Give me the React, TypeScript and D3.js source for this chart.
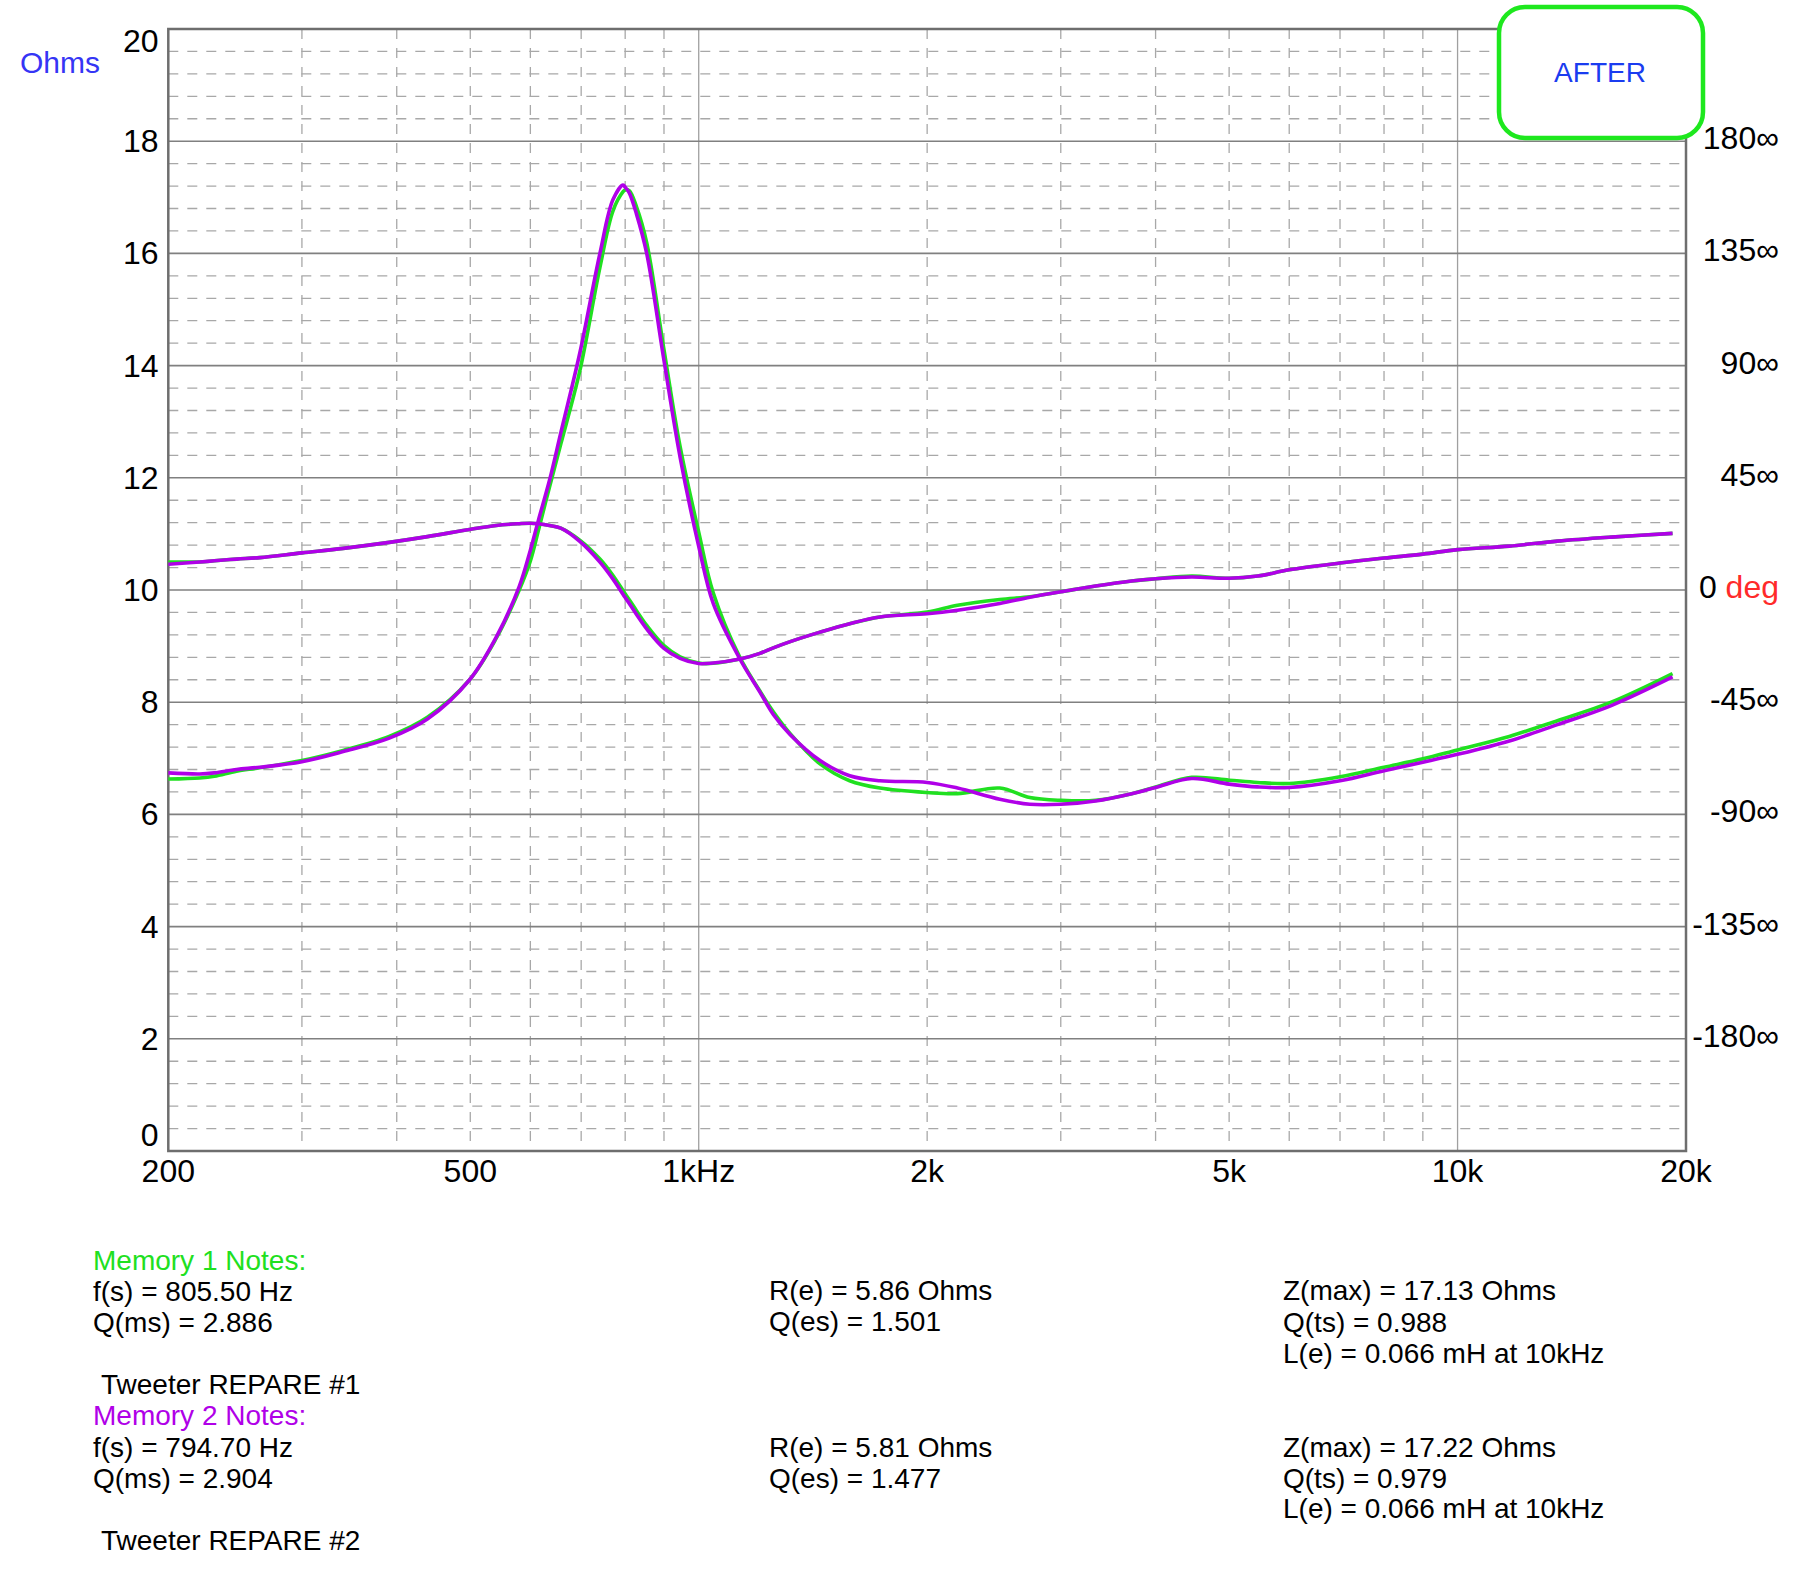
import React, { useEffect, useRef } from 'react';
import * as d3 from 'd3';

// frequency points (Hz)
const freq = [
  200, 220, 230, 246, 264, 300, 340, 391, 439, 499, 541, 580, 600, 615, 636, 658, 697, 741, 771, 795,
  800, 810, 828, 854, 900, 945, 1000, 1045, 1133, 1204, 1254, 1320, 1445, 1581, 1733, 2000, 2193, 2493,
  2731, 3000, 3334, 3720, 4000, 4464, 5000, 5451, 6000, 7000, 8000, 9000, 10000, 11700, 13540, 15940, 19200,
];

// Memory 1 (green) impedance, ohms
const zMem1 = [
  6.63, 6.65, 6.68, 6.77, 6.83, 6.96, 7.14, 7.39, 7.73, 8.4, 9.14, 10.0, 10.52, 11.07, 11.84, 12.6, 13.9, 15.75, 16.76, 17.1,
  17.13, 17.12, 16.83, 16.19, 14.28, 12.56, 11.03, 9.95, 8.8, 8.2, 7.83, 7.44, 6.9, 6.6, 6.47, 6.39, 6.37, 6.47,
  6.3, 6.25, 6.25, 6.37, 6.49, 6.66, 6.61, 6.57, 6.55, 6.67, 6.84, 6.99, 7.15, 7.39, 7.67, 8.0, 8.51,
];

// Memory 2 (purple) impedance, ohms
const zMem2 = [
  6.74, 6.72, 6.74, 6.8, 6.84, 6.94, 7.12, 7.36, 7.7, 8.4, 9.16, 10.06, 10.71, 11.25, 11.96, 12.8, 14.22, 16.0, 16.96, 17.22,
  17.18, 17.08, 16.7, 16.0, 14.09, 12.37, 10.78, 9.76, 8.77, 8.18, 7.78, 7.42, 6.96, 6.69, 6.6, 6.57, 6.47, 6.27,
  6.18, 6.18, 6.24, 6.37, 6.48, 6.64, 6.54, 6.49, 6.48, 6.6, 6.78, 6.93, 7.07, 7.31, 7.6, 7.94, 8.45,
];

// phase, degrees
const phMem1 = [
  11.25, 11.25, 11.7, 12.4, 13.0, 14.9, 16.7, 19.1, 21.4, 24.3, 25.9, 26.6, 26.8, 26.6, 25.9, 24.8, 20.0, 12.4, 5.8, -0.3,
  -1.5, -3.9, -8.3, -14.2, -22.3, -26.8, -29.3, -29.4, -27.7, -25.4, -23.2, -20.7, -16.9, -13.5, -10.8, -8.8, -6.1, -3.8,
  -2.7, -0.7, 1.6, 3.6, 4.5, 5.6, 4.7, 5.6, 8.1, 10.8, 12.8, 14.4, 16.2, 17.6, 19.6, 21.2, 22.7,
];
const phMem2 = [
  10.35, 11.25, 11.7, 12.4, 13.0, 14.9, 16.7, 19.1, 21.4, 24.3, 25.9, 26.6, 26.8, 26.6, 25.9, 24.8, 19.5, 11.2, 4.35, -1.8,
  -3.0, -5.4, -9.8, -15.6, -23.4, -27.4, -29.5, -29.3, -27.7, -25.4, -23.2, -20.7, -16.9, -13.5, -10.8, -9.5, -8.1, -5.4,
  -2.9, -0.7, 1.6, 3.6, 4.5, 5.2, 4.7, 5.6, 8.1, 10.8, 12.8, 14.4, 16.2, 17.6, 19.6, 21.2, 22.7,
];

const ohmTicks = [0, 2, 4, 6, 8, 10, 12, 14, 16, 18, 20];
const phaseTicks = [180, 135, 90, 45, 0, -45, -90, -135, -180];
const phaseLabels = ['180∞', '135∞', '90∞', '45∞', '0', '-45∞', '-90∞', '-135∞', '-180∞'];
const freqTicks = [200, 500, 1000, 2000, 5000, 10000, 20000];
const freqLabels = ['200', '500', '1kHz', '2k', '5k', '10k', '20k'];
const freqMinor = [300, 400, 500, 600, 700, 800, 900, 2000, 3000, 4000, 5000, 6000, 7000, 8000, 9000];
const freqMajor = [1000, 10000];

const notesMem1 = ['f(s) = 805.50 Hz', 'Q(ms) = 2.886'];
const notesMem2 = ['f(s) = 794.70 Hz', 'Q(ms) = 2.904'];
const midMem1 = ['R(e) = 5.86 Ohms', 'Q(es) = 1.501'];
const midMem2 = ['R(e) = 5.81 Ohms', 'Q(es) = 1.477'];
const rightMem1 = ['Z(max) = 17.13 Ohms', 'Q(ts) = 0.988', 'L(e) = 0.066 mH at 10kHz'];
const rightMem2 = ['Z(max) = 17.22 Ohms', 'Q(ts) = 0.979', 'L(e) = 0.066 mH at 10kHz'];

const GREEN = '#20e020';
const PURPLE = '#b000e8';
const FONT = '"Liberation Sans", Arial, sans-serif';

const App = () => {
  const svgRef = useRef<SVGSVGElement>(null);

  useEffect(() => {
    if (!svgRef.current) return;
    const width = 1800;
    const height = 1577;
    const plot = { left: 168.3, right: 1686, top: 29, bottom: 1151 };

    const svg = d3.select(svgRef.current).attr('width', width).attr('height', height);
    svg.selectAll('*').remove();
    svg.append('rect').attr('width', width).attr('height', height).attr('fill', 'white');

    const x = d3.scaleLog().domain([200, 20000]).range([plot.left, plot.right]);
    const y = d3.scaleLinear().domain([0, 20]).range([plot.bottom, plot.top]);
    const yPh = d3.scaleLinear().domain([-225, 225]).range([plot.bottom, plot.top]);

    const grid = svg.append('g');
    // minor horizontal dashes every 0.4 ohm
    const minorY = d3.range(1, 50).map(i => i * 0.4).filter(v => Math.abs(v / 2 - Math.round(v / 2)) > 0.01);
    grid.selectAll('.hminor').data(minorY).enter().append('line')
      .attr('x1', plot.left).attr('x2', plot.right)
      .attr('y1', d => y(d)).attr('y2', d => y(d))
      .attr('stroke', '#a8a8a8').attr('stroke-width', 1.3).attr('stroke-dasharray', '10,9');
    grid.selectAll('.vminor').data(freqMinor).enter().append('line')
      .attr('x1', d => x(d)).attr('x2', d => x(d))
      .attr('y1', plot.top).attr('y2', plot.bottom)
      .attr('stroke', '#a8a8a8').attr('stroke-width', 1.3).attr('stroke-dasharray', '10,9');
    grid.selectAll('.vmajor').data(freqMajor).enter().append('line')
      .attr('x1', d => x(d)).attr('x2', d => x(d))
      .attr('y1', plot.top).attr('y2', plot.bottom)
      .attr('stroke', '#a0a0a0').attr('stroke-width', 1.3);
    grid.selectAll('.hmajor').data(ohmTicks.slice(1, -1)).enter().append('line')
      .attr('x1', plot.left).attr('x2', plot.right)
      .attr('y1', d => y(d)).attr('y2', d => y(d))
      .attr('stroke', '#808080').attr('stroke-width', 1.6);

    // frame
    svg.append('rect')
      .attr('x', plot.left).attr('y', plot.top)
      .attr('width', plot.right - plot.left).attr('height', plot.bottom - plot.top)
      .attr('fill', 'none').attr('stroke', '#6e6e6e').attr('stroke-width', 2.5);

    // curves
    const lineOf = (vals: number[], sy: d3.ScaleLinear<number, number>) =>
      d3.line<number>()
        .x((_, i) => x(freq[i]))
        .y(d => sy(d))
        .curve(d3.curveCatmullRom.alpha(0.5))(vals);

    const curves = svg.append('g').attr('fill', 'none').attr('stroke-width', 3.6).attr('stroke-linejoin', 'round');
    curves.append('path').attr('d', lineOf(zMem1, y)).attr('stroke', GREEN);
    curves.append('path').attr('d', lineOf(phMem1, yPh)).attr('stroke', GREEN);
    curves.append('path').attr('d', lineOf(zMem2, y)).attr('stroke', PURPLE);
    curves.append('path').attr('d', lineOf(phMem2, yPh)).attr('stroke', PURPLE);

    // AFTER badge, drawn over the grid
    svg.append('rect')
      .attr('x', 1499).attr('y', 7).attr('width', 204).attr('height', 131)
      .attr('rx', 26).attr('ry', 26)
      .attr('fill', 'white').attr('stroke', '#1ee81e').attr('stroke-width', 4.5);

    const text = svg.append('g').attr('font-family', FONT);

    text.append('text').attr('x', 1600).attr('y', 81.5)
      .attr('text-anchor', 'middle').attr('font-size', 28).attr('fill', '#1a3cf0').text('AFTER');

    // left ticks
    text.selectAll('.ly').data(ohmTicks).enter().append('text')
      .attr('x', 158.5)
      .attr('y', d => (d === 20 ? 52 : d === 0 ? 1146 : y(d) + 11))
      .attr('text-anchor', 'end').attr('font-size', 32).attr('fill', '#000')
      .text(d => String(d));

    text.append('text').attr('x', 20).attr('y', 73)
      .attr('font-size', 30).attr('fill', '#3535f5').text('Ohms');

    // right ticks
    const right = text.selectAll('.ry').data(phaseTicks).enter().append('text')
      .attr('x', 1779).attr('y', d => yPh(d) + 8)
      .attr('text-anchor', 'end').attr('font-size', 32).attr('fill', '#000');
    right.append('tspan').text((_, i) => phaseLabels[i]);
    right.filter(d => d === 0).append('tspan').attr('fill', '#ff2a2a').text(' deg');

    // bottom ticks
    text.selectAll('.bx').data(freqTicks).enter().append('text')
      .attr('x', d => x(d)).attr('y', 1182)
      .attr('text-anchor', 'middle').attr('font-size', 32).attr('fill', '#000')
      .text((_, i) => freqLabels[i]);

    // notes
    const lh = 31.2;
    const notes = text.append('g').attr('font-size', 28).attr('fill', '#000');
    notes.append('text').attr('x', 93).attr('y', 1270).attr('fill', GREEN).text('Memory 1 Notes:');
    notesMem1.forEach((t, i) => notes.append('text').attr('x', 93).attr('y', 1301 + i * lh).text(t));
    notes.append('text').attr('x', 101).attr('y', 1394).text('Tweeter REPARE #1');
    notes.append('text').attr('x', 93).attr('y', 1425).attr('fill', PURPLE).text('Memory 2 Notes:');
    notesMem2.forEach((t, i) => notes.append('text').attr('x', 93).attr('y', 1457 + i * lh).text(t));
    notes.append('text').attr('x', 101).attr('y', 1550).text('Tweeter REPARE #2');

    midMem1.forEach((t, i) => notes.append('text').attr('x', 769).attr('y', 1300 + i * 30.5).text(t));
    midMem2.forEach((t, i) => notes.append('text').attr('x', 769).attr('y', 1457 + i * 30.5).text(t));
    rightMem1.forEach((t, i) => notes.append('text').attr('x', 1283).attr('y', 1300 + i * 31.5).text(t));
    rightMem2.forEach((t, i) => notes.append('text').attr('x', 1283).attr('y', 1457 + i * 30.5).text(t));
  }, []);

  return <svg ref={svgRef} style={{ position: 'absolute', left: 0, top: 0, display: 'block' }} />;
};

export default App;
